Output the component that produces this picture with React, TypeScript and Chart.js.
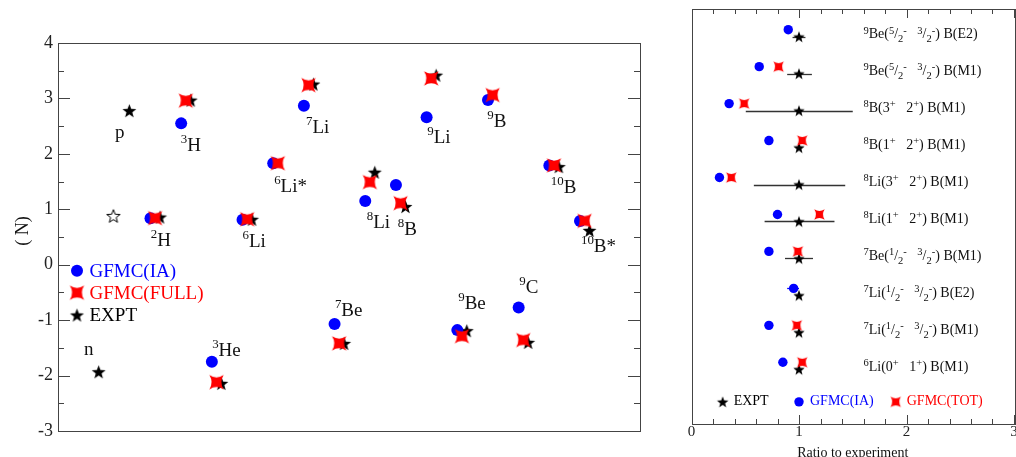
import React, { useEffect, useRef } from 'react';
import { Chart, registerables } from 'chart.js';
Chart.register(...registerables);

const SERIF = '"Liberation Serif", "DejaVu Serif", "Times New Roman", serif';

// ---------- Left panel: magnetic moments ----------
const nuclei = ['n', 'p', '2H', '3H', '3He', '6Li', '6Li*', '7Li', '7Be', '8Li', '8B', '9Li', '9Be', '9B', '9C', '10B', '10B*'];
const muIA = [null, null, 0.84, 2.55, -1.75, 0.81, 1.83, 2.87, -1.07, 1.15, 1.44, 2.66, -1.18, 2.97, -0.77, 1.79, 0.79];
const muFULL = [null, null, 0.84, 2.96, -2.12, 0.82, 1.83, 3.24, -1.42, 1.49, 1.11, 3.36, -1.29, 3.06, -1.36, 1.79, 0.79];
const muEXPT = [-1.93, 2.78, 0.86, 2.97, -2.14, 0.82, null, 3.26, -1.42, 1.67, 1.05, 3.42, -1.19, null, -1.4, 1.77, 0.62];
const isoscalarX = [0.79];
const isoscalarY = [0.88];
// label anchors (data coordinates: x slot, y baseline)
const nucLabelX = [-0.17, 0.84, 2.01, 2.99, 4.01, 5.0, 6.03, 7.07, 8.01, 9.05, 10.06, 11.02, 12.03, 12.98, 14.02, 15.05, 16.03];
const nucLabelY = [-1.63, 2.29, 0.34, 2.05, -1.65, 0.32, 1.31, 2.38, -0.93, 0.66, 0.54, 2.19, -0.8, 2.49, -0.51, 1.29, 0.23];
const leftYTicks = [-3, -2, -1, 0, 1, 2, 3, 4];
const DODGE_FULL = 0.15;
const DODGE_EXPT = 0.31;

// ---------- Right panel: transition ratios ----------
type Seg = [string, 'n' | 'u' | 'd'];
const transitions: Seg[][] = [
  [['9', 'u'], ['Be(', 'n'], ['5', 'u'], ['/', 'n'], ['2', 'd'], ['-', 'u'], ['   ', 'n'], ['3', 'u'], ['/', 'n'], ['2', 'd'], ['-', 'u'], [') B(E2)', 'n']],
  [['9', 'u'], ['Be(', 'n'], ['5', 'u'], ['/', 'n'], ['2', 'd'], ['-', 'u'], ['   ', 'n'], ['3', 'u'], ['/', 'n'], ['2', 'd'], ['-', 'u'], [') B(M1)', 'n']],
  [['8', 'u'], ['B(3', 'n'], ['+', 'u'], ['   ', 'n'], ['2', 'n'], ['+', 'u'], [') B(M1)', 'n']],
  [['8', 'u'], ['B(1', 'n'], ['+', 'u'], ['   ', 'n'], ['2', 'n'], ['+', 'u'], [') B(M1)', 'n']],
  [['8', 'u'], ['Li(3', 'n'], ['+', 'u'], ['   ', 'n'], ['2', 'n'], ['+', 'u'], [') B(M1)', 'n']],
  [['8', 'u'], ['Li(1', 'n'], ['+', 'u'], ['   ', 'n'], ['2', 'n'], ['+', 'u'], [') B(M1)', 'n']],
  [['7', 'u'], ['Be(', 'n'], ['1', 'u'], ['/', 'n'], ['2', 'd'], ['-', 'u'], ['   ', 'n'], ['3', 'u'], ['/', 'n'], ['2', 'd'], ['-', 'u'], [') B(M1)', 'n']],
  [['7', 'u'], ['Li(', 'n'], ['1', 'u'], ['/', 'n'], ['2', 'd'], ['-', 'u'], ['   ', 'n'], ['3', 'u'], ['/', 'n'], ['2', 'd'], ['-', 'u'], [') B(E2)', 'n']],
  [['7', 'u'], ['Li(', 'n'], ['1', 'u'], ['/', 'n'], ['2', 'd'], ['-', 'u'], ['   ', 'n'], ['3', 'u'], ['/', 'n'], ['2', 'd'], ['-', 'u'], [') B(M1)', 'n']],
  [['6', 'u'], ['Li(0', 'n'], ['+', 'u'], ['   ', 'n'], ['1', 'n'], ['+', 'u'], [') B(M1)', 'n']],
];
const ratioEXPT = [1, 1, 1, 1, 1, 1, 1, 1, 1, 1];
const ratioIA = [0.9, 0.63, 0.35, 0.72, 0.26, 0.8, 0.72, 0.95, 0.72, 0.85];
const ratioTOT = [null, 0.81, 0.49, 1.03, 0.37, 1.19, 0.99, null, 0.98, 1.03];
const exptLow = [0.94, 0.89, 0.505, null, 0.58, 0.68, 0.87, null, null, null];
const exptHigh = [1.06, 1.12, 1.5, null, 1.43, 1.33, 1.13, null, null, null];
const iaLow = [null, null, null, null, null, null, null, 0.89, null, null];
const iaHigh = [null, null, null, null, null, null, null, 1.0, null, null];
const rightXTicks = [0, 1, 2, 3];
const labelRatioX = 1.6;

// ---------- marker images ----------
function starCanvas(R: number, fill: string | null, stroke: string | null, lw = 1) {
  const size = Math.ceil(2 * R + 4);
  const c = document.createElement('canvas');
  c.width = size;
  c.height = size;
  const g = c.getContext('2d')!;
  g.translate(size / 2, size / 2 + R * 0.1);
  g.beginPath();
  const r = R * 0.42;
  for (let i = 0; i < 10; i++) {
    const a = -Math.PI / 2 + (i * Math.PI) / 5;
    const rr = i % 2 ? r : R;
    g.lineTo(rr * Math.cos(a), rr * Math.sin(a));
  }
  g.closePath();
  if (fill) {
    g.fillStyle = fill;
    g.fill();
  }
  if (stroke) {
    g.strokeStyle = stroke;
    g.lineWidth = lw;
    g.stroke();
  }
  return c;
}

function fourStarCanvas(s: number, color: string) {
  const size = Math.ceil(2 * s + 2);
  const c = document.createElement('canvas');
  c.width = size;
  c.height = size;
  const g = c.getContext('2d')!;
  g.translate(size / 2, size / 2);
  const k = 0.35;
  g.beginPath();
  g.moveTo(-s, -s);
  g.quadraticCurveTo(0, -k * s, s, -s);
  g.quadraticCurveTo(k * s, 0, s, s);
  g.quadraticCurveTo(0, k * s, -s, s);
  g.quadraticCurveTo(-k * s, 0, -s, -s);
  g.closePath();
  g.fillStyle = color;
  g.fill();
  return c;
}

function drawRich(
  ctx: CanvasRenderingContext2D,
  segs: Seg[],
  x: number,
  y: number,
  size: number,
  supScale: number,
  supRise: number,
  subDrop: number,
  color: string
) {
  let cx = x;
  ctx.fillStyle = color;
  ctx.textBaseline = 'alphabetic';
  ctx.textAlign = 'left';
  for (const [t, k] of segs) {
    const fs = k === 'n' ? size : size * supScale;
    ctx.font = `${fs}px ${SERIF}`;
    const dy = k === 'u' ? -size * supRise : k === 'd' ? size * subDrop : 0;
    ctx.fillText(t, cx, y + dy);
    cx += ctx.measureText(t).width;
  }
}

function nucSegs(name: string): Seg[] {
  const m = name.match(/^(\d*)(.*)$/)!;
  const out: Seg[] = [];
  if (m[1]) out.push([m[1], 'u']);
  out.push([m[2], 'n']);
  return out;
}

export default function App() {
  const leftRef = useRef<HTMLCanvasElement>(null);
  const rightRef = useRef<HTMLCanvasElement>(null);

  useEffect(() => {
    const redBig = fourStarCanvas(7.2, '#ff0000');
    const starBig = starCanvas(7.3, '#000000', null);
    const openStar = starCanvas(7, '#ffffff', '#000000', 1);
    const redSmall = fourStarCanvas(5.2, '#ff0000');
    const starSmall = starCanvas(6, '#000000', null);

    const slotsIA = nuclei.map((_, k) => k);
    const ptsIA = slotsIA.map((k) => ({ x: k, y: muIA[k] })).filter((p) => p.y !== null);
    const ptsFULL = slotsIA.map((k) => ({ x: k + DODGE_FULL, y: muFULL[k] })).filter((p) => p.y !== null);
    const ptsEXPT = slotsIA.map((k) => ({ x: k + DODGE_EXPT, y: muEXPT[k] })).filter((p) => p.y !== null);
    const ptsIso = isoscalarX.map((x, i) => ({ x, y: isoscalarY[i] }));

    const leftDecor = {
      id: 'leftDecor',
      afterDraw(chart: any) {
        const ctx: CanvasRenderingContext2D = chart.ctx;
        const { left, right, top, bottom } = chart.chartArea;
        const ys = chart.scales.y;
        const xs = chart.scales.x;
        ctx.save();
        ctx.strokeStyle = '#444';
        ctx.lineWidth = 1;
        ctx.strokeRect(Math.round(left) + 0.5, Math.round(top) + 0.5, Math.round(right - left), Math.round(bottom - top));
        ctx.beginPath();
        for (let i = -6; i <= 8; i++) {
          const v = i / 2;
          const len = i % 2 === 0 ? 12 : 6;
          const py = Math.round(ys.getPixelForValue(v)) + 0.5;
          ctx.moveTo(left, py);
          ctx.lineTo(left + len, py);
          ctx.moveTo(right, py);
          ctx.lineTo(right - len, py);
        }
        ctx.stroke();

        // nucleus labels
        nuclei.forEach((name, k) => {
          const px = xs.getPixelForValue(nucLabelX[k]);
          const py = ys.getPixelForValue(nucLabelY[k]);
          drawRich(ctx, nucSegs(name), px, py, 19, 0.68, 0.42, 0.2, '#111');
        });

        // legend
        const lx = left + 19;
        const rows: [HTMLCanvasElement | null, string, string, number][] = [
          [null, 'GFMC(IA)', '#0000ff', top + 227.7],
          [redBig, 'GFMC(FULL)', '#ff0000', top + 249.7],
          [starBig, 'EXPT', '#000000', top + 272],
        ];
        rows.forEach(([img, text, color, y]) => {
          if (img) {
            ctx.drawImage(img, lx - img.width / 2, y - img.height / 2);
          } else {
            ctx.beginPath();
            ctx.fillStyle = '#0000ff';
            ctx.arc(lx, y, 6, 0, Math.PI * 2);
            ctx.fill();
          }
          ctx.font = `19px ${SERIF}`;
          ctx.fillStyle = color;
          ctx.textAlign = 'left';
          ctx.textBaseline = 'middle';
          ctx.fillText(text, lx + 12.5, y + 1);
        });

        // y-axis title (mu symbols unavailable in the original rendering)
        ctx.translate(23, 231);
        ctx.rotate(-Math.PI / 2);
        ctx.font = `18px ${SERIF}`;
        ctx.fillStyle = '#111';
        ctx.textAlign = 'center';
        ctx.textBaseline = 'middle';
        ctx.fillText('( N)', 0, 0);
        ctx.restore();
      },
    };

    const left = new Chart(leftRef.current!, {
      type: 'scatter',
      data: {
        datasets: [
          { label: 'GFMC(FULL)', data: ptsFULL, pointStyle: redBig as any, pointRadius: 7 },
          { label: 'GFMC(IA)', data: ptsIA, pointStyle: 'circle', pointRadius: 6, backgroundColor: '#0000ff', borderWidth: 0 },
          { label: 'EXPT', data: ptsEXPT, pointStyle: starBig as any, pointRadius: 7 },
          { label: 'EXPT (open)', data: ptsIso, pointStyle: openStar as any, pointRadius: 7 },
        ],
      },
      options: {
        responsive: false,
        animation: false,
        events: [],
        layout: { padding: { left: 0, top: 43, right: 20, bottom: 26 } },
        plugins: { legend: { display: false }, tooltip: { enabled: false } },
        scales: {
          x: { type: 'linear', min: -1.015, max: 17.955, display: false },
          y: {
            type: 'linear',
            min: -3,
            max: 4,
            afterFit: (s: any) => {
              s.width = 58;
            },
            afterBuildTicks: (s: any) => {
              s.ticks = leftYTicks.map((v) => ({ value: v }));
            },
            grid: { display: false, drawTicks: false },
            border: { display: false },
            ticks: { padding: 5, color: '#222', font: { family: SERIF, size: 18 }, callback: (v: any) => String(v) },
          },
        },
      },
      plugins: [leftDecor],
    });

    // ---------- right chart ----------
    const rows = transitions.map((_, i) => i);
    const ptsRE = rows.map((i) => ({ x: ratioEXPT[i], y: i + 0.1 }));
    const ptsRIA = rows.map((i) => ({ x: ratioIA[i], y: i - 0.09 }));
    const ptsRTOT = rows.filter((i) => ratioTOT[i] !== null).map((i) => ({ x: ratioTOT[i], y: i - 0.09 }));

    const rightDecor = {
      id: 'rightDecor',
      beforeDatasetsDraw(chart: any) {
        const ctx: CanvasRenderingContext2D = chart.ctx;
        const xs = chart.scales.x;
        const ys = chart.scales.y;
        ctx.save();
        ctx.lineWidth = 1.3;
        rows.forEach((i) => {
          if (exptLow[i] !== null) {
            const py = Math.round(ys.getPixelForValue(i + 0.1)) + 0.5;
            ctx.strokeStyle = '#333';
            ctx.beginPath();
            ctx.moveTo(xs.getPixelForValue(exptLow[i]), py);
            ctx.lineTo(xs.getPixelForValue(exptHigh[i]), py);
            ctx.stroke();
          }
          if (iaLow[i] !== null) {
            const py = Math.round(ys.getPixelForValue(i - 0.09)) + 0.5;
            ctx.strokeStyle = '#0000ff';
            ctx.beginPath();
            ctx.moveTo(xs.getPixelForValue(iaLow[i]), py);
            ctx.lineTo(xs.getPixelForValue(iaHigh[i]), py);
            ctx.stroke();
          }
        });
        ctx.restore();
      },
      afterDraw(chart: any) {
        const ctx: CanvasRenderingContext2D = chart.ctx;
        const { left, right, top, bottom } = chart.chartArea;
        const xs = chart.scales.x;
        const ys = chart.scales.y;
        ctx.save();
        ctx.strokeStyle = '#444';
        ctx.lineWidth = 1;
        ctx.strokeRect(Math.round(left) + 0.5, Math.round(top) + 0.5, Math.round(right - left), Math.round(bottom - top));
        ctx.beginPath();
        for (let i = 0; i <= 15; i++) {
          const v = i / 5;
          const len = i % 5 === 0 ? 9 : 5;
          const px = Math.round(xs.getPixelForValue(v)) + 0.5;
          ctx.moveTo(px, top);
          ctx.lineTo(px, top + len);
          ctx.moveTo(px, bottom);
          ctx.lineTo(px, bottom - len);
        }
        ctx.stroke();

        // transition labels
        const lx = xs.getPixelForValue(labelRatioX);
        transitions.forEach((segs, i) => {
          drawRich(ctx, segs, lx, ys.getPixelForValue(i) + 5, 14, 0.75, 0.32, 0.3, '#111');
        });

        // legend row
        const ly = ys.getPixelForValue(9.98);
        const items: [HTMLCanvasElement | null, number, string, string][] = [
          [starSmall, 0.29, 'EXPT', '#000000'],
          [null, 1.0, 'GFMC(IA)', '#0000ff'],
          [redSmall, 1.9, 'GFMC(TOT)', '#ff0000'],
        ];
        items.forEach(([img, xv, text, color]) => {
          const px = xs.getPixelForValue(xv);
          if (img) {
            ctx.drawImage(img, px - img.width / 2, ly - img.height / 2);
          } else {
            ctx.beginPath();
            ctx.fillStyle = '#0000ff';
            ctx.arc(px, ly, 4.7, 0, Math.PI * 2);
            ctx.fill();
          }
          ctx.font = `14px ${SERIF}`;
          ctx.fillStyle = color;
          ctx.textAlign = 'left';
          ctx.textBaseline = 'middle';
          ctx.fillText(text, px + 11, ly);
        });

        // axis title
        ctx.font = `14px ${SERIF}`;
        ctx.fillStyle = '#111';
        ctx.textAlign = 'center';
        ctx.textBaseline = 'middle';
        ctx.fillText('Ratio to experiment', (left + right) / 2, 453);
        ctx.restore();
      },
    };

    const right = new Chart(rightRef.current!, {
      type: 'scatter',
      data: {
        datasets: [
          { label: 'GFMC(TOT)', data: ptsRTOT, pointStyle: redSmall as any, pointRadius: 5 },
          { label: 'GFMC(IA)', data: ptsRIA, pointStyle: 'circle', pointRadius: 4.7, backgroundColor: '#0000ff', borderWidth: 0 },
          { label: 'EXPT', data: ptsRE, pointStyle: starSmall as any, pointRadius: 6 },
        ],
      },
      options: {
        responsive: false,
        animation: false,
        events: [],
        layout: { padding: { left: 21.5, top: 9, right: 16, bottom: 0 } },
        plugins: { legend: { display: false }, tooltip: { enabled: false } },
        scales: {
          x: {
            type: 'linear',
            min: 0,
            max: 3,
            afterFit: (s: any) => {
              s.height = 33;
              s.paddingLeft = 0;
              s.paddingRight = 0;
            },
            afterBuildTicks: (s: any) => {
              s.ticks = rightXTicks.map((v) => ({ value: v }));
            },
            grid: { display: false, drawTicks: false },
            border: { display: false },
            ticks: { padding: 1, color: '#222', maxRotation: 0, autoSkip: false, font: { family: SERIF, size: 15, lineHeight: 1 }, callback: (v: any) => String(v) },
          },
          y: { type: 'linear', reverse: true, min: -0.65, max: 10.58, display: false },
        },
      },
      plugins: [rightDecor],
    });

    return () => {
      left.destroy();
      right.destroy();
    };
  }, []);

  return (
    <div style={{ position: 'fixed', left: 0, top: 0, width: 1016, height: 457, background: '#fff', overflow: 'hidden' }}>
      <canvas ref={leftRef} width={660} height={457} style={{ position: 'absolute', left: 0, top: 0, display: 'block' }} />
      <canvas ref={rightRef} width={360} height={457} style={{ position: 'absolute', left: 670, top: 0, display: 'block' }} />
    </div>
  );
}
